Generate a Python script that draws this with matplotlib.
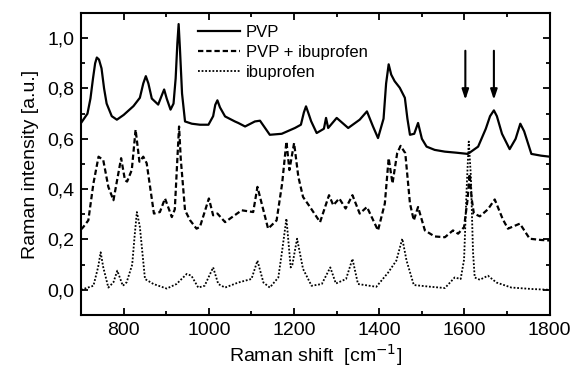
import matplotlib
matplotlib.use("Agg")
from matplotlib import pyplot as plt
from matplotlib.ticker import MultipleLocator, FuncFormatter

plt.rcParams['font.family'] = ['Liberation Sans', 'DejaVu Sans']

# PVP (solid)
pvp_x = [700, 715, 722, 728, 733, 737, 742, 748, 754, 760, 772, 784, 800, 823, 838, 846, 852,
         858, 866, 881, 890, 895, 901, 910, 917, 922, 926, 929, 932, 937, 944, 960, 979, 999,
         1010, 1015, 1020, 1026, 1038, 1061, 1069, 1085, 1108, 1120, 1143, 1171, 1202, 1216,
         1223, 1228, 1234, 1240, 1253, 1270, 1275, 1280, 1300, 1327, 1354, 1371, 1385, 1397,
         1410, 1416, 1422, 1428, 1436, 1448, 1460, 1466, 1472, 1482, 1491, 1500, 1511, 1530,
         1554, 1580, 1608, 1632, 1650, 1660, 1669, 1676, 1688, 1706, 1720, 1731, 1740, 1757,
         1780, 1800]
pvp_y = [0.663, 0.70, 0.76, 0.84, 0.90, 0.923, 0.915, 0.88, 0.80, 0.74, 0.69, 0.676, 0.695,
         0.73, 0.763, 0.82, 0.849, 0.82, 0.76, 0.736, 0.775, 0.796, 0.76, 0.716, 0.74, 0.84,
         0.98, 1.056, 0.96, 0.78, 0.669, 0.66, 0.656, 0.656, 0.69, 0.735, 0.753, 0.725, 0.689,
         0.669, 0.663, 0.649, 0.669, 0.672, 0.616, 0.62, 0.643, 0.656, 0.705, 0.729, 0.70,
         0.67, 0.623, 0.64, 0.683, 0.643, 0.683, 0.643, 0.676, 0.709, 0.65, 0.603, 0.68, 0.82,
         0.896, 0.855, 0.829, 0.803, 0.763, 0.68, 0.616, 0.62, 0.663, 0.60, 0.569, 0.556,
         0.549, 0.545, 0.54, 0.569, 0.64, 0.69, 0.713, 0.69, 0.62, 0.559, 0.60, 0.66, 0.63,
         0.54, 0.533, 0.529]

# PVP + ibuprofen (dashed)
mix_x = [700, 705, 717, 729, 741, 752, 764, 776, 794, 803, 808, 819, 828, 837, 846, 854,
         871, 885, 897, 913, 920, 926, 930, 934, 944, 956, 971, 979, 1000, 1010, 1020, 1038,
         1077, 1104, 1114, 1128, 1139, 1159, 1172, 1182, 1189, 1200, 1210, 1221, 1237, 1261,
         1282, 1292, 1306, 1321, 1337, 1354, 1371, 1397, 1413, 1422, 1431, 1442, 1450,
         1461, 1472, 1481, 1491, 1507, 1530, 1554, 1573, 1585, 1599, 1607, 1612, 1617,
         1622, 1636, 1655, 1671, 1690, 1702, 1730, 1753, 1780, 1800]
mix_y = [0.24, 0.249, 0.276, 0.423, 0.529, 0.516, 0.409, 0.356, 0.523, 0.436, 0.43, 0.476,
         0.636, 0.509, 0.529, 0.503, 0.303, 0.309, 0.363, 0.289, 0.32, 0.52, 0.649, 0.52,
         0.316, 0.276, 0.243, 0.25, 0.363, 0.296, 0.303, 0.269, 0.316, 0.309, 0.409, 0.316,
         0.243, 0.276, 0.423, 0.589, 0.476, 0.583, 0.449, 0.369, 0.33, 0.269, 0.376, 0.336,
         0.363, 0.323, 0.376, 0.303, 0.329, 0.236, 0.343, 0.523, 0.423, 0.543, 0.572, 0.543,
         0.343, 0.276, 0.329, 0.236, 0.212, 0.209, 0.236, 0.223, 0.249, 0.356, 0.46, 0.36,
         0.303, 0.292, 0.32, 0.359, 0.28, 0.243, 0.263, 0.203, 0.198, 0.196]

# ibuprofen (dotted)
ibu_x = [700, 705, 729, 740, 746, 752, 764, 776, 785, 798, 807, 820, 826, 831, 838, 850, 870,
         901, 924, 948, 959, 975, 990, 1010, 1022, 1038, 1069, 1100, 1114, 1128, 1143, 1163,
         1172, 1182, 1192, 1196, 1207, 1221, 1241, 1265, 1285, 1298, 1322, 1337, 1350, 1393,
         1421, 1440, 1454, 1464, 1481, 1515, 1554, 1577, 1591, 1599, 1605, 1610, 1615, 1620,
         1624, 1636, 1655, 1675, 1710, 1760, 1800]
ibu_y = [0.0, 0.003, 0.016, 0.09, 0.149, 0.09, 0.009, 0.03, 0.076, 0.016, 0.03, 0.10, 0.22,
         0.309, 0.25, 0.043, 0.023, 0.005, 0.023, 0.063, 0.056, 0.009, 0.016, 0.089, 0.023,
         0.009, 0.029, 0.043, 0.116, 0.029, 0.009, 0.049, 0.156, 0.283, 0.089, 0.10, 0.203,
         0.083, 0.016, 0.023, 0.089, 0.025, 0.043, 0.123, 0.023, 0.012, 0.069, 0.116, 0.203,
         0.116, 0.019, 0.013, 0.007, 0.049, 0.043, 0.12, 0.40, 0.589, 0.45, 0.15, 0.049, 0.04,
         0.056, 0.029, 0.009, 0.003, 0.0]

labels = ["PVP", "PVP + ibuprofen", "ibuprofen"]
arrow_x = [1602, 1669]

fig = plt.figure(figsize=(5.75, 3.71), dpi=100)
ax = fig.add_axes([0.141, 0.151, 0.815, 0.814])

ax.plot(pvp_x, pvp_y, color="black", lw=1.6, ls="-", label=labels[0])
ax.plot(mix_x, mix_y, color="black", lw=1.6, ls=(0, (2.4, 1.3)), label=labels[1])
ax.plot(ibu_x, ibu_y, color="black", lw=1.3, ls=(0, (1, 1.0)), label=labels[2])

for xa in arrow_x:
    ax.annotate("", xy=(xa, 0.755), xytext=(xa, 0.95),
                arrowprops=dict(arrowstyle="-|>,head_width=0.2,head_length=0.6", color="black",
                                lw=1.5, mutation_scale=10, shrinkA=0, shrinkB=0))

ax.set_xlim(700, 1800)
ax.set_ylim(-0.1, 1.1)
ax.xaxis.set_major_locator(MultipleLocator(200))
ax.xaxis.set_minor_locator(MultipleLocator(100))
ax.yaxis.set_major_locator(MultipleLocator(0.2))
ax.yaxis.set_minor_locator(MultipleLocator(0.1))
ax.yaxis.set_major_formatter(FuncFormatter(lambda v, p: f"{v:.1f}".replace(".", ",").replace("-0,0", "0,0")))
ax.tick_params(which="both", direction="in", top=True, right=True, labelsize=14, width=1.3)
ax.tick_params(which="major", length=5, pad=5)
ax.tick_params(which="minor", length=3)
for s in ax.spines.values():
    s.set_linewidth(1.5)

ax.set_xlabel(r"Raman shift  [cm$^{-1}$]", fontsize=14, labelpad=2)
ax.set_ylabel("Raman intensity [a.u.]", fontsize=14, labelpad=6)

ax.legend(loc="upper left", bbox_to_anchor=(0.225, 1.0), frameon=False, fontsize=12,
          handlelength=2.5, labelspacing=0.3, handletextpad=0.35, borderaxespad=0.3)

fig.savefig("out.png", dpi=100)
